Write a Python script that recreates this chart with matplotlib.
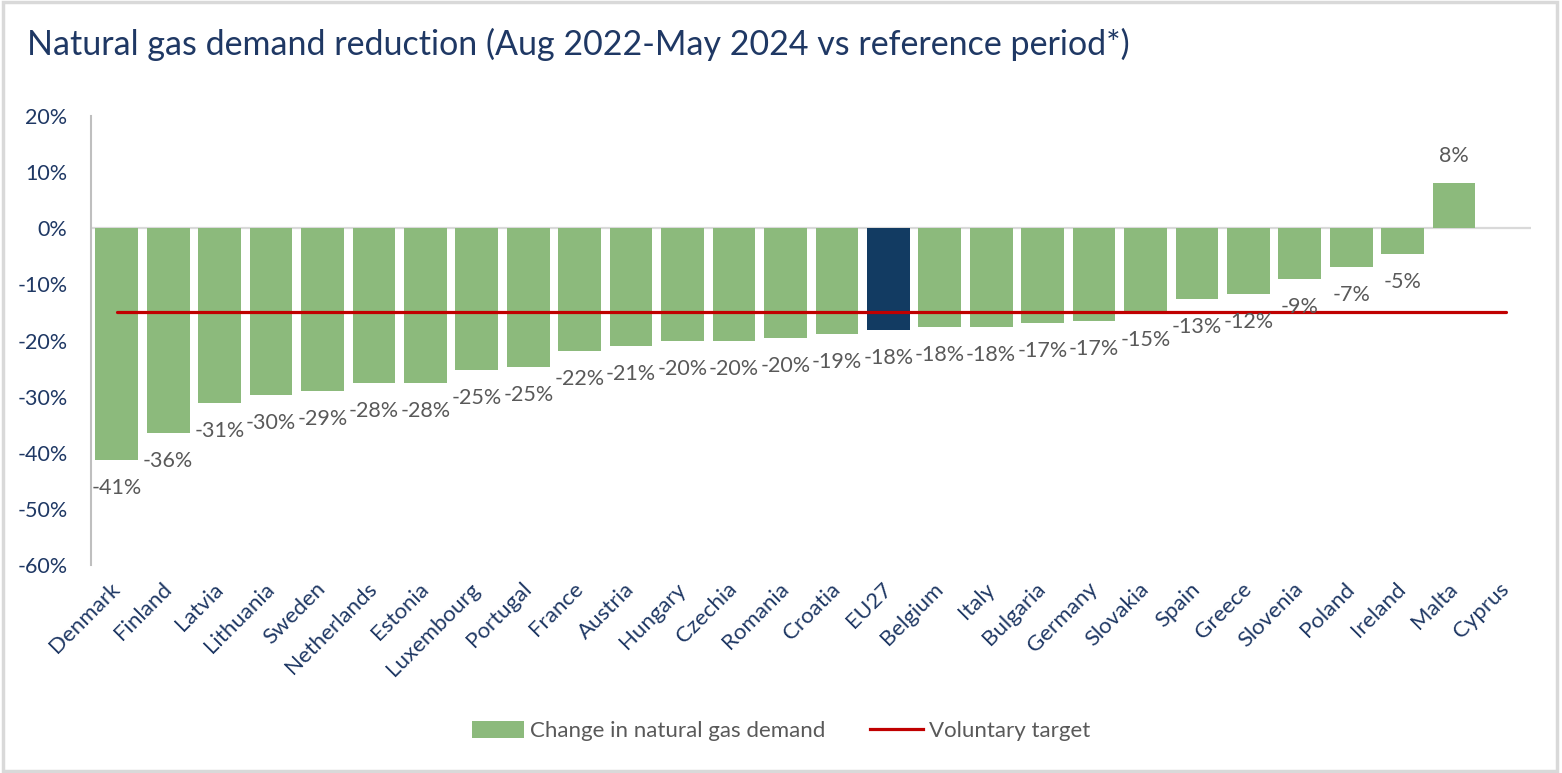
import numpy as np
import matplotlib
matplotlib.use("Agg")
import matplotlib.pyplot as plt
from matplotlib.patches import Rectangle, Patch
from matplotlib.lines import Line2D

plt.rcParams['font.family'] = ['Lato', 'DejaVu Sans']

# data
countries = ['Denmark', 'Finland', 'Latvia', 'Lithuania', 'Sweden', 'Netherlands',
             'Estonia', 'Luxembourg', 'Portugal', 'France', 'Austria', 'Hungary',
             'Czechia', 'Romania', 'Croatia', 'EU27', 'Belgium', 'Italy', 'Bulgaria',
             'Germany', 'Slovakia', 'Spain', 'Greece', 'Slovenia', 'Poland',
             'Ireland', 'Malta', 'Cyprus']
demand_change = [-41.2, -36.4, -31.1, -29.7, -29.0, -27.6, -27.6, -25.3, -24.8,
                 -21.8, -20.9, -20.1, -20.0, -19.6, -18.8, -18.2, -17.6, -17.6,
                 -16.8, -16.6, -15.0, -12.6, -11.8, -9.1, -6.9, -4.6, 8.0, np.nan]
target = [-15, -15, -15, -15, -15, -15, -15, -15, -15, -15, -15, -15, -15, -15,
          -15, -15, -15, -15, -15, -15, -15, -15, -15, -15, -15, -15, -15, -15]
highlight = 'EU27'

NAVY = '#1F3864'
GREEN = '#8CBA7C'
DARK = '#123B62'
RED = '#C00000'
GREY_TXT = '#595959'

fig = plt.figure(figsize=(15.62, 7.73), dpi=100)
ax = fig.add_axes([0.0583, 0.269, 0.922, 0.581])

x = np.arange(len(countries))
colors = [DARK if c == highlight else GREEN for c in countries]
vals = np.array(demand_change, dtype=float)
ax.bar(x, np.nan_to_num(vals), width=0.83, color=colors, zorder=2)
ax.plot(x, target, color=RED, lw=2.3, solid_capstyle='round', zorder=3)

# data labels
for xi, v in zip(x, vals):
    if np.isnan(v):
        continue
    off = 27 if v > 0 else -28
    ax.annotate(f"{v:.0f}%", (xi, v), xytext=(0, off), textcoords='offset pixels',
                ha='center', va='center', fontsize=15.5, color=GREY_TXT, zorder=4)

ax.set_xlim(-0.5, len(countries) - 0.5)
ax.set_ylim(-60, 20)
ax.set_yticks(np.arange(-60, 21, 10))
ax.set_yticklabels([f"{t}%" for t in range(-60, 21, 10)])
ax.axhline(0, color='#D9D9D9', lw=1.6, zorder=1)

ax.set_xticks(x)
ax.set_xticklabels(countries, rotation=45, ha='right', va='center',
                   rotation_mode='anchor')
ax.tick_params(axis='x', length=0, pad=15, labelsize=16, labelcolor=NAVY)
ax.tick_params(axis='y', length=0, pad=17, labelsize=15.5, labelcolor=NAVY)

for s in ['top', 'right', 'bottom']:
    ax.spines[s].set_visible(False)
ax.spines['left'].set_color('#BFBFBF')
ax.spines['left'].set_linewidth(1.5)

fig.text(0.0173, 0.942, "Natural gas demand reduction (Aug 2022-May 2024 vs reference period*)",
         fontsize=24.5, color=NAVY, ha='left', va='center')

handles = [Patch(facecolor=GREEN, edgecolor='none'),
           Line2D([0], [0], color=RED, lw=2.3)]
fig.legend(handles, ['Change in natural gas demand', 'Voluntary target'],
           loc='center', bbox_to_anchor=(0.5, 0.054), ncol=2, frameon=False,
           fontsize=16, labelcolor=GREY_TXT, handlelength=2.35, handleheight=0.8,
           handletextpad=0.3, columnspacing=2.0)

fig.patches.append(Rectangle((0.002, 0.003), 0.995, 0.994, transform=fig.transFigure,
                             fill=False, ec='#D9D9D9', lw=2.5))

fig.savefig('out.png', dpi=100)
